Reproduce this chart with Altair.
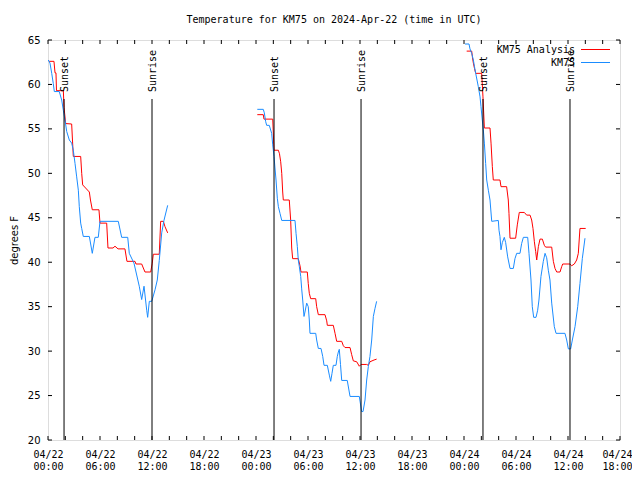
import altair as alt
import pandas as pd

# ---- data (hours since 2024-04-22 00:00 UTC, degrees F) ----
obs_d1_h = [0.03, 0.23, 0.43, 0.61, 0.73, 1.30, 1.58, 1.77, 1.96, 2.16, 2.46, 2.73, 2.92, 3.12, 3.31, 3.50, 3.61, 3.77,
            3.89, 4.07, 4.77, 5.11, 5.42, 5.80, 6.00, 8.11, 8.50, 9.20, 9.38, 9.92, 10.53, 10.81, 11.08, 11.39, 11.50,
            11.69, 11.97, 12.35, 12.61, 12.84, 13.12, 13.38, 13.81]
obs_d1_t = [62.75, 62.4, 61.25, 60.1, 59.2, 59.2, 58.25, 57.1, 56.0, 54.7, 53.75, 53.4, 52.6, 51.1, 49.6, 48.1, 46.25, 44.4,
            43.8, 42.9, 42.9, 41.0, 42.8, 42.8, 44.6, 44.6, 42.8, 42.8, 41.0, 39.9, 37.3, 35.8, 37.3, 34.6, 33.8,
            35.6, 35.6, 36.9, 38.0, 40.2, 43.3, 44.7, 46.4]

ana_d1_h = [0.12, 0.69, 0.81, 0.92, 0.98, 1.77, 1.85, 2.04, 2.73, 2.92, 3.77, 3.89, 4.00, 4.77, 4.90, 5.11, 5.88, 6.00,
            6.77, 6.92, 7.50, 7.73, 8.08, 8.88, 9.11, 10.04, 10.15, 10.81, 11.19, 11.85, 12.03, 12.15, 12.84, 13.00,
            13.31, 13.50, 13.81]
ana_d1_t = [62.6, 62.6, 61.3, 61.3, 59.3, 59.3, 57.4, 55.6, 55.55, 51.9, 51.9, 50.0, 48.7, 47.9, 47.0, 45.9, 45.9, 44.4,
            44.4, 41.6, 41.6, 41.8, 41.5, 41.5, 40.1, 40.1, 39.8, 39.8, 38.9, 38.9, 39.9, 40.9, 40.9, 44.6,
            44.6, 44.0, 43.3]

obs_d2_h = [24.15, 24.84, 24.96, 25.12, 25.23, 25.53, 25.81, 25.93, 26.08, 26.19, 26.31, 26.46, 26.58, 26.77, 26.97,
            28.50, 28.62, 28.77, 28.88, 29.00, 29.16, 29.27, 29.39, 29.54, 29.65, 29.85, 30.03, 30.15, 30.23, 30.89,
            31.00, 31.19, 31.50, 31.70, 31.85, 32.23, 32.46, 32.62, 32.77, 32.92, 33.23, 33.38, 33.50, 33.61, 33.75,
            33.89, 34.53, 34.85, 35.92, 36.19, 36.35, 36.58, 36.77, 36.96, 37.15, 37.35, 37.54, 37.73, 37.92]
obs_d2_t = [57.2, 57.2, 56.8, 55.8, 55.4, 55.4, 54.5, 53.2, 51.9, 50.6, 49.25, 47.2, 46.25, 45.5, 44.7,
            44.7, 43.25, 41.75, 40.25, 39.5, 38.4, 37.0, 35.75, 33.9, 34.4, 35.4, 35.0, 33.5, 32.0, 32.0,
            31.25, 30.3, 30.3, 29.4, 28.4, 28.4, 27.3, 26.6, 27.5, 28.4, 28.4, 29.4, 29.9, 30.2, 28.5,
            26.7, 26.7, 24.9, 24.9, 23.2, 23.2, 24.5, 26.75, 28.25, 29.4, 31.25, 33.9, 34.8, 35.6]

ana_d2_h = [24.15, 24.84, 24.92, 25.93, 26.08, 26.58, 26.71, 26.85, 26.97, 27.08, 27.15, 27.84, 28.00, 28.12, 28.23,
            28.88, 29.08, 29.19, 29.92, 30.03, 30.15, 30.31, 30.89, 31.00, 31.19, 31.96, 32.16, 32.23, 32.92, 33.12,
            33.31, 33.89, 34.08, 34.27, 34.85, 35.04, 35.23, 35.62, 35.92, 36.12, 36.77, 36.96, 37.15, 37.62, 37.92]
ana_d2_t = [56.6, 56.6, 56.1, 56.1, 52.6, 52.6, 52.2, 51.3, 50.0, 47.9, 47.0, 47.0, 44.75, 41.6, 40.4,
            40.4, 39.6, 38.9, 38.9, 37.6, 36.5, 35.9, 35.9, 35.0, 34.1, 34.1, 33.4, 32.9, 32.9, 32.0,
            31.1, 31.1, 30.6, 30.4, 30.4, 29.6, 28.9, 28.8, 28.3, 28.5, 28.5, 28.4, 28.8, 29.0, 29.1]

obs_d3_h = [48.12, 48.58, 48.69, 48.89, 49.08, 49.21, 49.35, 49.50, 49.65, 49.85, 49.96, 50.11, 50.23, 50.35, 50.50,
            50.62, 50.81, 51.00, 51.20, 51.96, 52.04, 52.15, 52.27, 52.42, 52.65, 52.81, 53.04, 53.31, 53.69, 53.88,
            54.08, 54.46, 54.65, 54.85, 55.35, 55.50, 55.73, 55.88, 56.04, 56.31, 56.50, 56.65, 56.88, 57.15, 57.35,
            57.54, 57.73, 57.92, 58.12, 58.42, 58.62, 59.65, 59.85, 60.04, 60.31, 60.50, 60.81, 61.12, 61.38, 61.65,
            61.96]
obs_d3_t = [64.55, 64.55, 64.0, 63.5, 62.75, 62.0, 61.25, 60.5, 59.75, 58.6, 57.5, 56.0, 54.9, 53.4, 51.1,
            49.25, 48.1, 47.0, 44.6, 44.7, 43.6, 42.9, 41.4, 42.2, 42.8, 42.2, 40.6, 39.3, 39.3, 40.4,
            41.0, 41.0, 42.1, 42.8, 42.8, 41.0, 38.0, 35.0, 33.8, 33.8, 34.6, 35.75, 38.4, 40.1, 41.0,
            40.5, 39.1, 38.0, 35.4, 32.75, 32.0, 32.0, 31.25, 30.25, 30.25, 31.25, 32.75, 35.0, 37.6, 40.4,
            42.7]

ana_d3_h = [48.31, 48.89, 48.98, 49.08, 49.21, 49.35, 50.04, 50.19, 50.35, 51.00, 51.12, 51.27, 51.38, 52.15, 52.27,
            52.92, 53.11, 53.19, 53.31, 53.96, 54.15, 54.38, 54.96, 55.23, 55.62, 55.81, 55.96, 56.12, 56.27, 56.39,
            56.58, 56.77, 57.04, 57.27, 57.42, 58.12, 58.31, 58.50, 58.70, 59.08, 59.27, 59.39, 60.23, 60.42, 60.73,
            61.00, 61.19, 61.38, 62.04]
ana_d3_t = [63.75, 63.75, 63.0, 62.4, 61.8, 61.25, 61.25, 58.6, 55.1, 55.1, 53.4, 50.75, 49.25, 49.25, 48.5,
            48.5, 47.0, 45.5, 42.7, 42.7, 44.2, 45.6, 45.6, 45.3, 45.3, 44.75, 43.8, 42.3, 41.2, 40.25,
            41.75, 42.6, 42.6, 41.9, 41.7, 41.7, 40.1, 39.3, 38.9, 38.9, 39.5, 39.8, 39.8, 39.6, 39.8,
            40.25, 41.0, 43.8, 43.8]

sun_hours = [1.85, 12.0, 26.08, 36.12, 50.19, 60.23]
sun_labels = ["Sunset", "Sunrise", "Sunset", "Sunrise", "Sunset", "Sunrise"]

x_label_hours = list(range(0, 67, 6))
x_tick_hours = list(range(0, 67, 2))
y_ticks = [20, 25, 30, 35, 40, 45, 50, 55, 60, 65]

legend_labels = ["KM75 Analysis", "KM75"]
legend_colors = ["#ff0000", "#1a8cff"]

RED = "#ff0000"
BLUE = "#1a8cff"
MONO = "DejaVu Sans Mono"

# ---- tables ----
def series(parts):
    rows = []
    for seg, (hs, ts) in enumerate(parts):
        for h, t in zip(hs, ts):
            rows.append({"hour": h, "temp": t, "seg": seg})
    return pd.DataFrame(rows)

obs_df = series([(obs_d1_h, obs_d1_t), (obs_d2_h, obs_d2_t), (obs_d3_h, obs_d3_t)])
ana_df = series([(ana_d1_h, ana_d1_t), (ana_d2_h, ana_d2_t), (ana_d3_h, ana_d3_t)])
sun_df = pd.DataFrame({"hour": sun_hours, "label": sun_labels})
xt_df = pd.DataFrame({"hour": x_tick_hours})
yt_df = pd.DataFrame({"temp": y_ticks})
leg_df = pd.DataFrame({"label": legend_labels, "color": legend_colors, "ypix": [9.5, 22.5]})

xscale = alt.Scale(domain=[0, 66], nice=False, zero=False)
yscale = alt.Scale(domain=[20, 65], nice=False, zero=False)

label_expr = ("['04/' + (22 + floor(datum.value / 24)), "
              "(datum.value % 24 < 10 ? '0' : '') + (datum.value % 24) + ':00']")

x_axis = alt.Axis(values=x_label_hours, labelExpr=label_expr, ticks=False, domain=False, grid=False,
                  labelFont=MONO, labelFontSize=10, labelColor="black", labelPadding=9,
                  labelLineHeight=12, labelBaseline="top", title=None, labelFlush=False, labelOverlap=False,
                  labelAlign={"condition": {"test": "datum.value == 66", "value": "right"}, "value": "center"},
                  labelOffset={"condition": {"test": "datum.value == 66", "value": 12}, "value": 0})
y_axis = alt.Axis(values=y_ticks, ticks=False, domain=False, grid=False, labelFont="DejaVu Sans",
                  labelFontSize=10, labelColor="black", labelPadding=8, title="degrees F",
                  titleFont="DejaVu Sans", titleFontSize=10, titleFontWeight="normal", titleColor="black",
                  titleX=-34, titleY=200, titleAngle=270, titleAlign="center", titleBaseline="middle")

ana_line = alt.Chart(ana_df).mark_line(color=RED, strokeWidth=1, strokeJoin="miter").encode(
    x=alt.X("hour:Q", scale=xscale, axis=x_axis),
    y=alt.Y("temp:Q", scale=yscale, axis=y_axis),
    detail="seg:N",
    order="hour:Q",
)
obs_line = alt.Chart(obs_df).mark_line(color=BLUE, strokeWidth=1, strokeJoin="miter").encode(
    x=alt.X("hour:Q", scale=xscale),
    y=alt.Y("temp:Q", scale=yscale),
    detail="seg:N",
    order="hour:Q",
)

sun_rules = alt.Chart(sun_df).mark_rule(color="black", strokeWidth=1).encode(
    x=alt.X("hour:Q", scale=xscale), y=alt.value(59), y2=alt.value(400)
)
sun_text = alt.Chart(sun_df).mark_text(angle=270, align="left", baseline="middle", font=MONO,
                                        fontSize=10, color="black", dy=1).encode(
    x=alt.X("hour:Q", scale=xscale), y=alt.value(52), text="label:N"
)

xt_bottom = alt.Chart(xt_df).mark_rule(color="black", strokeWidth=1).encode(
    x=alt.X("hour:Q", scale=xscale), y=alt.value(400), y2=alt.value(396))
xt_top = alt.Chart(xt_df).mark_rule(color="black", strokeWidth=1).encode(
    x=alt.X("hour:Q", scale=xscale), y=alt.value(0), y2=alt.value(4))
yt_left = alt.Chart(yt_df).mark_rule(color="black", strokeWidth=1).encode(
    y=alt.Y("temp:Q", scale=yscale), x=alt.value(0), x2=alt.value(4))
yt_right = alt.Chart(yt_df).mark_rule(color="black", strokeWidth=1).encode(
    y=alt.Y("temp:Q", scale=yscale), x=alt.value(572), x2=alt.value(568))

leg_text = alt.Chart(leg_df).mark_text(align="right", baseline="middle", font=MONO, fontSize=10,
                                        color="black").encode(
    x=alt.value(527), y=alt.Y("ypix:Q", scale=None), text="label:N")
leg_rule = alt.Chart(leg_df).mark_rule(strokeWidth=1).encode(
    x=alt.value(533), x2=alt.value(562), y=alt.Y("ypix:Q", scale=None),
    color=alt.Color("color:N", scale=None))

chart = alt.layer(
    ana_line, obs_line, sun_rules, sun_text, xt_bottom, xt_top, yt_left, yt_right, leg_text, leg_rule
).resolve_scale(color="independent").properties(
    width=572,
    height=400,
    title=alt.TitleParams("Temperature for KM75 on 2024-Apr-22 (time in UTC)", font=MONO, fontSize=10,
                          fontWeight="normal", anchor="middle", color="black", offset=10),
    autosize=alt.AutoSizeParams(type="none"),
    padding={"left": 40, "top": 32, "right": 12, "bottom": 32},
).configure_view(stroke="black", strokeWidth=1).configure(background="white")

chart.save("out.html", embed_options={"renderer": "svg", "actions": False})
